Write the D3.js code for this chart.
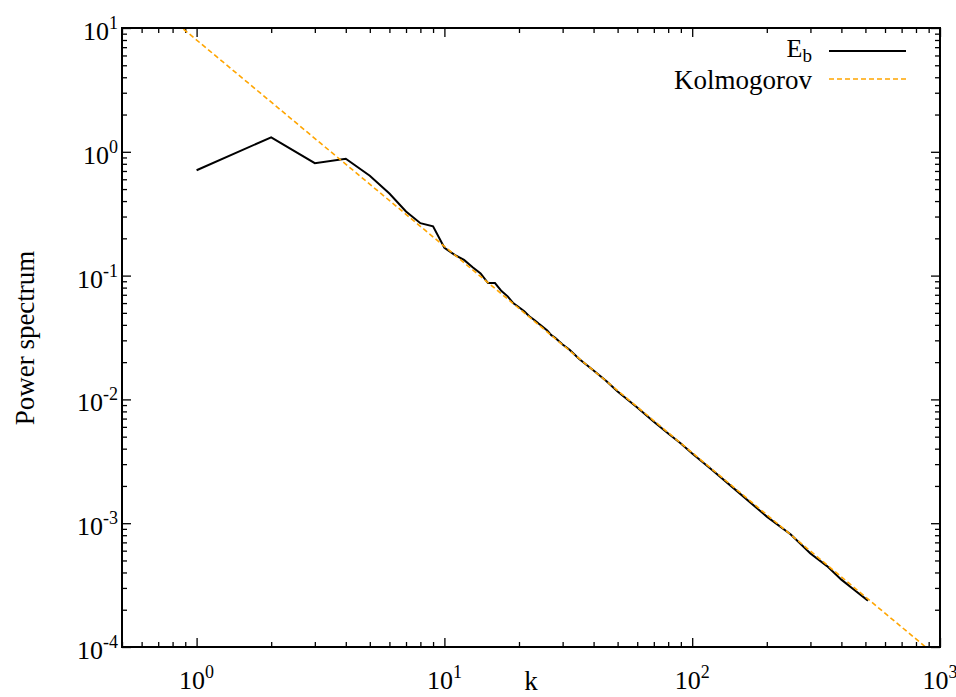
<!DOCTYPE html>
<html>
<head>
<meta charset="utf-8">
<script src="https://cdn.jsdelivr.net/npm/d3@7"></script>
<style>
  body { margin: 0; background: #fff; }
  svg { display: block; }
  text { font-family: "Liberation Serif", "Times New Roman", Times, "DejaVu Serif", serif; }
</style>
</head>
<body>
<script>
// wavenumber k and spectrum E_b
var kValues = [1, 2, 3, 4, 5, 6, 7, 8, 9, 10, 11, 12, 13, 14, 15, 16, 17, 18, 19, 20,
               21, 22, 23, 24, 25, 26, 27, 28, 29, 30, 32, 35, 40, 45, 50, 60, 70, 80, 90, 100,
               120, 150, 200, 250, 300, 350, 400, 450, 512];
var ebValues = [0.71, 1.31, 0.81, 0.88, 0.64, 0.46, 0.33, 0.265, 0.25, 0.168, 0.147, 0.134, 0.117, 0.104, 0.087, 0.087, 0.075, 0.068, 0.0597, 0.0555,
                0.0515, 0.047, 0.044, 0.041, 0.0385, 0.036, 0.033, 0.0315, 0.0295, 0.0278, 0.0252, 0.0212, 0.0171, 0.0141, 0.0116, 0.0086, 0.0066, 0.0053, 0.0044, 0.00366,
                0.0027, 0.00185, 0.00113, 0.00081, 0.00057, 0.00045, 0.00035, 0.00029, 0.000237];

// Kolmogorov reference line, two end points
var kolK = [0.5, 1000];
var kolE = [25.4, 8.0e-5];

var xMajor = [1, 10, 100, 1000];
var xMajorExp = ["0", "1", "2", "3"];
var yMajor = [10, 1, 0.1, 0.01, 0.001, 0.0001];
var yMajorExp = ["1", "0", "-1", "-2", "-3", "-4"];

var legendNames = ["E", "Kolmogorov"];

var width = 956, height = 697;
var margin = {left: 122, top: 28, right: 16, bottom: 50};
var serif = '"Liberation Serif", "Times New Roman", Times, "DejaVu Serif", serif';

var svg = d3.select('body').append('svg')
    .attr('width', width)
    .attr('height', height)
    .attr('font-family', serif);

var x = d3.scaleLog().domain([0.5, 1000]).range([margin.left, width - margin.right]);
var y = d3.scaleLog().domain([1e-4, 10]).range([height - margin.bottom, margin.top]);

var x0 = margin.left, x1 = width - margin.right;
var y0 = height - margin.bottom, y1 = margin.top;

// minor tick values
var xMinor = [];
[0.1, 1, 10, 100].forEach(function(d) {
  for (var m = 2; m <= 9; m++) {
    var v = d * m;
    if (v >= 0.5 && v <= 1000) xMinor.push(v);
  }
});
var yMinor = [];
[0.0001, 0.001, 0.01, 0.1, 1].forEach(function(d) {
  for (var m = 2; m <= 9; m++) yMinor.push(d * m);
});

function tickGroup(axis, tx, ty) {
  var g = svg.append('g').attr('transform', 'translate(' + tx + ',' + ty + ')').call(axis);
  g.select('.domain').remove();
  g.selectAll('line').attr('stroke', '#000').attr('stroke-width', 1.3);
  g.selectAll('text').remove();
  return g;
}

// ticks on all four sides, pointing inwards
tickGroup(d3.axisBottom(x).tickValues(xMinor).tickSize(-5).tickSizeOuter(0), 0, y0);
tickGroup(d3.axisBottom(x).tickValues(xMajor).tickSize(-9).tickSizeOuter(0), 0, y0);
tickGroup(d3.axisTop(x).tickValues(xMinor).tickSize(-5).tickSizeOuter(0), 0, y1);
tickGroup(d3.axisTop(x).tickValues(xMajor).tickSize(-9).tickSizeOuter(0), 0, y1);
tickGroup(d3.axisLeft(y).tickValues(yMinor).tickSize(-5).tickSizeOuter(0), x0, 0);
tickGroup(d3.axisLeft(y).tickValues(yMajor).tickSize(-9).tickSizeOuter(0), x0, 0);
tickGroup(d3.axisRight(y).tickValues(yMinor).tickSize(-5).tickSizeOuter(0), x1, 0);
tickGroup(d3.axisRight(y).tickValues(yMajor).tickSize(-9).tickSizeOuter(0), x1, 0);

// tick labels 10^n
var xLab = svg.selectAll('.xlab').data(xMajor).enter().append('text')
  .attr('class', 'xlab')
  .attr('x', function(d) { return x(d); })
  .attr('y', 689)
  .attr('text-anchor', 'middle')
  .attr('font-size', 26);
xLab.append('tspan').text('10');
xLab.append('tspan').attr('font-size', 18).attr('dy', -11).text(function(d, i) { return xMajorExp[i]; });

var yLab = svg.selectAll('.ylab').data(yMajor).enter().append('text')
  .attr('class', 'ylab')
  .attr('x', 118)
  .attr('y', function(d) { return y(d) + 12; })
  .attr('text-anchor', 'end')
  .attr('font-size', 26);
yLab.append('tspan').text('10');
yLab.append('tspan').attr('font-size', 18).attr('dy', -11).text(function(d, i) { return yMajorExp[i]; });

// axis titles
svg.append('text')
  .attr('x', (x0 + x1) / 2)
  .attr('y', 690)
  .attr('text-anchor', 'middle')
  .attr('font-size', 27)
  .text('k');

svg.append('text')
  .attr('transform', 'translate(34,' + 338 + ') rotate(-90)')
  .attr('text-anchor', 'middle')
  .attr('font-size', 27)
  .text('Power spectrum');

// clip to plot area
svg.append('defs').append('clipPath').attr('id', 'plotClip')
  .append('rect')
  .attr('x', x0).attr('y', y1)
  .attr('width', x1 - x0).attr('height', y0 - y1);

var line = d3.line()
  .x(function(d) { return x(d[0]); })
  .y(function(d) { return y(d[1]); });

var ebData = kValues.map(function(k, i) { return [k, ebValues[i]]; });
var kolData = kolK.map(function(k, i) { return [k, kolE[i]]; });

var plot = svg.append('g').attr('clip-path', 'url(#plotClip)');

plot.append('path')
  .datum(ebData)
  .attr('d', line)
  .attr('fill', 'none')
  .attr('stroke', '#000')
  .attr('stroke-width', 2);

plot.append('path')
  .datum(kolData)
  .attr('d', line)
  .attr('fill', 'none')
  .attr('stroke', '#ffa500')
  .attr('stroke-width', 1.6)
  .attr('stroke-dasharray', '5,3');

// frame
svg.append('rect')
  .attr('x', x0).attr('y', y1)
  .attr('width', x1 - x0).attr('height', y0 - y1)
  .attr('fill', 'none')
  .attr('stroke', '#000')
  .attr('stroke-width', 2);

// legend
var leg1 = svg.append('text')
  .attr('x', 812).attr('y', 57)
  .attr('text-anchor', 'end')
  .attr('font-size', 26);
leg1.append('tspan').text(legendNames[0]);
leg1.append('tspan').attr('font-size', 19).attr('dy', 5).text('b');

svg.append('line')
  .attr('x1', 829).attr('x2', 906).attr('y1', 51).attr('y2', 51)
  .attr('stroke', '#000').attr('stroke-width', 2);

svg.append('text')
  .attr('x', 812).attr('y', 89)
  .attr('text-anchor', 'end')
  .attr('font-size', 27)
  .text(legendNames[1]);

svg.append('line')
  .attr('x1', 829).attr('x2', 906).attr('y1', 79).attr('y2', 79)
  .attr('stroke', '#ffa500').attr('stroke-width', 1.6)
  .attr('stroke-dasharray', '5,3');
</script>
</body>
</html>
